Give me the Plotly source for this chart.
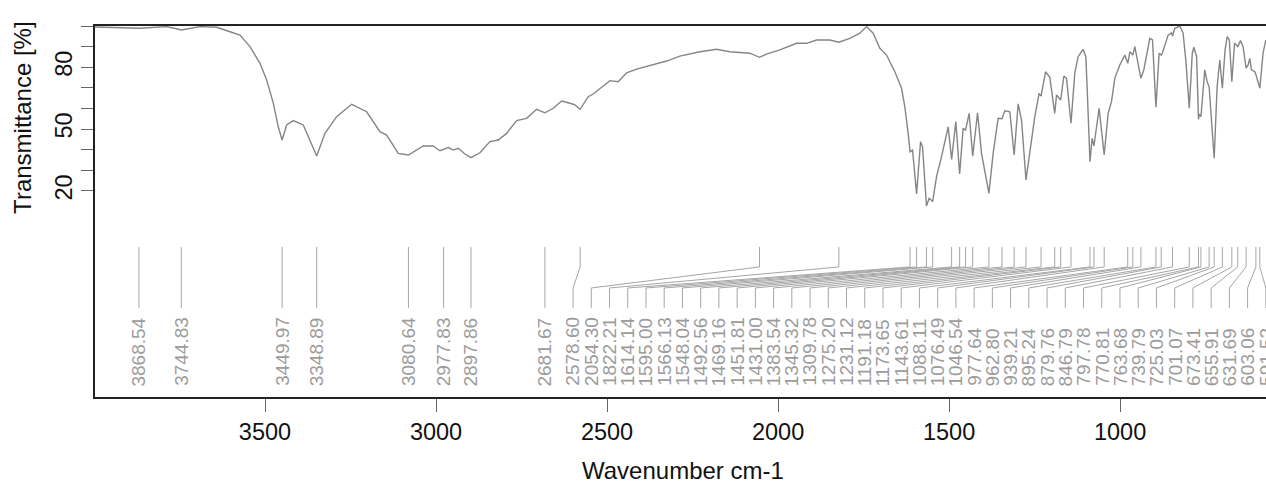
import plotly.graph_objects as go

# ---------------- data ----------------
wavenumber = [
    3997, 3953, 3865.5, 3787.4, 3743.6, 3690, 3641.3, 3602.4, 3573.2, 3543.9,
    3514.7, 3495.1, 3475.8, 3461.2, 3449.97, 3436.7, 3417.4, 3388.1, 3368.6, 3348.89,
    3324.7, 3290.5, 3246.7, 3202.8, 3163.9, 3144.4, 3110.4, 3080.64, 3037.4, 3008.1,
    2988.6, 2964.3, 2949.7, 2935.0, 2915.5, 2897.86, 2871.6, 2842.4, 2818.1, 2793.6,
    2764.4, 2735.1, 2705.9, 2681.67, 2657.3, 2632.8, 2608.6, 2594.0, 2578.60, 2555.1,
    2540.5, 2515.9, 2491.6, 2467.4, 2442.8, 2413.6, 2365.1, 2325.9, 2287.0, 2228.6,
    2179.7, 2140.9, 2082.4, 2054.30, 2033.6, 1994.8, 1945.9, 1916.7, 1887.4, 1848.6,
    1822.21, 1790.1, 1760.9, 1741.3, 1722.0, 1702.4, 1682.8, 1658.6, 1639.0, 1629.4,
    1619.7, 1614.14, 1606.8, 1602.1, 1595.00, 1583.4, 1577.6, 1566.13, 1558.3, 1548.04,
    1536.7, 1522.1, 1512.5, 1502.8, 1492.56, 1480.3, 1469.16, 1459.0, 1451.81, 1441.4,
    1431.00, 1416.8, 1405.2, 1395.5, 1383.54, 1371.2, 1356.6, 1345.32, 1337.1, 1322.5,
    1309.78, 1298.1, 1288.2, 1275.20, 1264.0, 1249.4, 1236.8, 1231.12, 1218.1, 1205.5,
    1191.18, 1185.9, 1173.65, 1164.6, 1156.7, 1143.61, 1132.5, 1122.8, 1108.1, 1100.3,
    1096.5, 1088.11, 1081.8, 1076.49, 1061.4, 1046.54, 1035.1, 1025.2, 1015.5, 1000.9,
    986.3, 977.64, 971.5, 962.80, 957.0, 939.21, 930.7, 913.2, 905.3, 895.24,
    885.9, 879.76, 876.1, 859.7, 849.8, 846.79, 840.2, 825.6, 815.9, 808.0,
    797.78, 789.0, 784.3, 776.4, 770.81, 768.5, 763.68, 752.5, 745.7, 739.79,
    725.03, 716.4, 708.6, 701.07, 693.2, 686.9, 680.7, 673.41, 665.4, 655.91,
    648.0, 640.4, 631.69, 625.8, 620.9, 616.0, 606.3, 603.06, 591.52, 582.1,
    574.1,
]
transmittance = [
    99.5, 99.4, 98.9, 99.7, 98.1, 99.7, 99.4, 97.2, 95.6, 90.0,
    81.9, 73.8, 62.6, 51.1, 44.7, 52.0, 54.1, 52.0, 44.7, 36.9,
    47.9, 56.0, 62.0, 58.4, 48.7, 47.1, 38.2, 37.4, 41.8, 41.8,
    39.5, 41.0, 39.8, 40.7, 37.9, 36.1, 38.5, 43.9, 44.7, 47.9,
    54.1, 55.2, 59.6, 57.9, 60.1, 63.6, 62.5, 61.7, 59.6, 65.7,
    67.0, 70.5, 73.5, 73.0, 77.3, 79.1, 81.1, 83.0, 85.4, 87.5,
    88.7, 87.5, 86.8, 84.8, 86.4, 88.4, 91.6, 91.6, 93.2, 93.2,
    92.1, 94.0, 96.5, 99.7, 96.5, 89.2, 85.9, 77.8, 69.8, 60.8,
    47.9, 39.0, 39.8, 31.7, 18.5, 43.9, 41.4, 12.7, 16.4, 14.8,
    26.9, 36.6, 43.1, 51.1, 35.3, 53.6, 28.2, 50.4, 49.5, 57.6,
    36.9, 57.9, 38.2, 29.3, 18.8, 38.2, 55.2, 55.0, 58.9, 58.4,
    37.4, 62.2, 54.4, 25.3, 39.8, 56.0, 67.3, 66.0, 77.8, 75.1,
    57.6, 66.5, 64.1, 75.7, 74.6, 52.8, 77.1, 85.1, 88.7, 85.1,
    70.5, 34.2, 45.5, 41.8, 60.1, 37.4, 57.6, 63.3, 74.6, 81.1,
    85.9, 81.9, 87.5, 85.9, 90.0, 74.6, 78.7, 94.0, 93.2, 60.6,
    86.8, 85.9, 87.0, 95.6, 96.7, 95.1, 98.9, 100.0, 96.5, 83.5,
    60.1, 86.8, 89.7, 85.1, 54.7, 57.3, 56.0, 78.7, 73.0, 70.5,
    35.8, 70.5, 83.5, 69.8, 88.4, 94.8, 93.2, 73.0, 91.6, 90.0,
    92.9, 90.0, 79.5, 81.1, 84.3, 78.7, 77.8, 76.5, 69.8, 86.8,
    93.2,
]
peak_wn = [
    3868.54, 3744.83, 3449.97, 3348.89, 3080.64, 2977.83, 2897.86, 2681.67,
    2578.60, 2054.30, 1822.21, 1614.14, 1595.00, 1566.13, 1548.04, 1492.56,
    1469.16, 1451.81, 1431.00, 1383.54, 1345.32, 1309.78, 1275.20, 1231.12,
    1191.18, 1173.65, 1143.61, 1088.11, 1076.49, 1046.54, 977.64, 962.80,
    939.21, 895.24, 879.76, 846.79, 797.78, 770.81, 763.68, 739.79, 725.03,
    701.07, 673.41, 655.91, 631.69, 603.06, 591.52,
]
x_ticks = [3500, 3000, 2500, 2000, 1500, 1000]
y_ticks = [20, 30, 40, 50, 60, 70, 80, 90, 100]
y_ticklabels = ["20", "", "", "50", "", "", "80", "", ""]

# ---------------- layout parameters ----------------
X_HI, X_LO = 3997, 573.5
Y_LO, Y_HI = -80, 100
LABEL_GAP = 53.3          # minimum label spacing (wavenumber units)
LABEL_LO = 574
Y_LINE = [-7.2, -16.9, -27.1, -36.8]
Y_TEXT = -75.2
FONT = "Liberation Sans, Arial, sans-serif"

# spread labels: isotonic regression with min spacing + bounds
asc = sorted(peak_wn)
n = len(asc)
q = [p - i * LABEL_GAP for i, p in enumerate(asc)]
blocks = []
for v in q:
    blocks.append([v, 1])
    while len(blocks) > 1 and blocks[-2][0] / blocks[-2][1] > blocks[-1][0] / blocks[-1][1]:
        s, c = blocks.pop()
        blocks[-1][0] += s
        blocks[-1][1] += c
m = []
for s, c in blocks:
    m += [s / c] * c
hi_m = X_HI - (n - 1) * LABEL_GAP
m = [min(max(v, LABEL_LO), hi_m) for v in m]
label_pos = {p: m[i] + i * LABEL_GAP for i, p in enumerate(asc)}

cx, cy = [], []
for p in peak_wn:
    lp = label_pos[p]
    cx += [p, p, lp, lp, None]
    cy += Y_LINE + [None]

fig = go.Figure()
fig.add_trace(go.Scatter(x=cx, y=cy, mode="lines",
                         line=dict(color="#a6a6a6", width=1), hoverinfo="skip"))
fig.add_trace(go.Scatter(x=wavenumber, y=transmittance, mode="lines",
                         line=dict(color="#858585", width=1.4)))

for p in peak_wn:
    fig.add_annotation(x=label_pos[p], y=Y_TEXT, xref="x", yref="y",
                       text=f"{p:.2f}", textangle=-90, showarrow=False,
                       xanchor="center", yanchor="bottom", borderpad=0,
                       font=dict(family=FONT, size=19, color="#9c9c9c"))

fig.add_annotation(x=0.502, y=-0.197, xref="paper", yref="paper",
                   text="Wavenumber cm-1", showarrow=False,
                   xanchor="center", yanchor="middle",
                   font=dict(family=FONT, size=24, color="#111"))
fig.add_annotation(x=-0.0615, y=0.755, xref="paper", yref="paper",
                   text="Transmittance [%]", showarrow=False, textangle=-90,
                   xanchor="center", yanchor="middle",
                   font=dict(family=FONT, size=24, color="#111"))

fig.update_layout(
    width=1266, height=487,
    margin=dict(l=95, r=0, t=26, b=90),
    paper_bgcolor="white", plot_bgcolor="white",
    showlegend=False,
    font=dict(family=FONT, size=23.5, color="#111"),
    xaxis=dict(range=[X_HI, X_LO], tickvals=x_ticks, ticks="outside",
               ticklen=13, tickwidth=1, tickcolor="#666",
               showline=True, linecolor="#222", linewidth=2, mirror=True,
               showgrid=False, zeroline=False,
               tickfont=dict(family=FONT, size=23.5, color="#111")),
    yaxis=dict(range=[Y_LO, Y_HI], tickvals=y_ticks, ticktext=y_ticklabels,
               ticks="outside", ticklen=12, tickwidth=1, tickcolor="#666",
               tickangle=-90,
               showline=True, linecolor="#222", linewidth=2, mirror=False,
               showgrid=False, zeroline=False,
               tickfont=dict(family=FONT, size=23.5, color="#111")),
)

fig.write_html("out.html")
